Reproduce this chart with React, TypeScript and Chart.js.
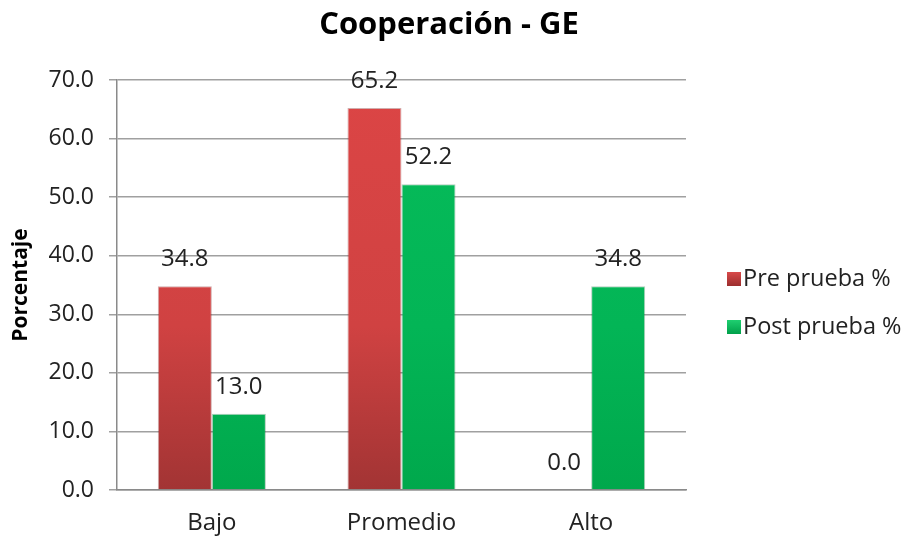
import React, { useEffect, useRef } from "react";
import { Chart, registerables } from "chart.js";

Chart.register(...registerables);

const categories = ["Bajo", "Promedio", "Alto"];
const preValues = [34.8, 65.2, 0.0];
const postValues = [13.0, 52.2, 34.8];
const seriesNames = ["Pre prueba %", "Post prueba %"];
const chartTitle = "Cooperación - GE";
const yTitle = "Porcentaje";

const FONT = "'Open Sans', sans-serif";

function grad(ctx: any, area: any, top: string, mid: string, bottom: string) {
  if (!area) return top;
  const g = ctx.createLinearGradient(0, area.top, 0, area.bottom);
  g.addColorStop(0, top);
  g.addColorStop(0.6, mid);
  g.addColorStop(1, bottom);
  return g;
}

const overlay = {
  id: "overlay",
  afterDatasetsDraw(chart: any) {
    const { ctx } = chart;
    ctx.save();
    // data labels
    ctx.font = `24px ${FONT}`;
    ctx.fillStyle = "#222";
    ctx.textAlign = "center";
    ctx.textBaseline = "middle";
    chart.data.datasets.forEach((ds: any, di: number) => {
      const meta = chart.getDatasetMeta(di);
      meta.data.forEach((bar: any, i: number) => {
        const v = ds.data[i] as number;
        ctx.fillText(v.toFixed(1), bar.x, bar.y - 27);
      });
    });
    // title
    ctx.font = `bold 31px ${FONT}`;
    ctx.fillStyle = "#000";
    ctx.fillText(chartTitle, 449, 25);
    // legend
    const colors = [
      ["#d84a4a", "#9c2e2e"],
      ["#1fcf70", "#00a04a"],
    ];
    const ys = [279, 327];
    ctx.textAlign = "left";
    ctx.font = `23.5px ${FONT}`;
    seriesNames.forEach((name, i) => {
      const y = ys[i];
      const g = ctx.createLinearGradient(0, y - 7, 0, y + 7);
      g.addColorStop(0, colors[i][0]);
      g.addColorStop(1, colors[i][1]);
      ctx.fillStyle = g;
      ctx.fillRect(727, y - 7, 14, 14);
      ctx.fillStyle = "#222";
      ctx.fillText(name, 743, y);
    });
    ctx.restore();
  },
};

export default function App() {
  const ref = useRef<HTMLCanvasElement>(null);
  useEffect(() => {
    if (!ref.current) return;
    const chart = new Chart(ref.current, {
      type: "bar",
      data: {
        labels: categories,
        datasets: [
          {
            label: seriesNames[0],
            data: preValues,
            backgroundColor: (c: any) =>
              grad(c.chart.ctx, c.chart.chartArea, "#dc4545", "#d04242", "#a23434"),
            borderColor: "rgba(120,20,20,0.35)",
            borderWidth: 1,
          },
          {
            label: seriesNames[1],
            data: postValues,
            backgroundColor: (c: any) =>
              grad(c.chart.ctx, c.chart.chartArea, "#06bc5a", "#03b556", "#00a84c"),
            borderColor: "rgba(0,90,40,0.3)",
            borderWidth: 1,
          },
        ],
      },
      options: {
        animation: false,
        responsive: true,
        maintainAspectRatio: false,
        layout: { padding: { top: 80, right: 224, left: 0, bottom: 0 } },
        plugins: {
          legend: { display: false },
          title: { display: false },
          tooltip: { enabled: false },
        },
        datasets: {
          bar: { categoryPercentage: 0.57, barPercentage: 1 },
        },
        scales: {
          x: {
            grid: { display: false },
            border: { color: "#8a8a8a", width: 1.5 },
            ticks: {
              color: "#222",
              font: { family: FONT, size: 24 },
              padding: 11,
            },
            afterFit: (s: any) => {
              s.height = 50;
            },
          },
          y: {
            min: 0,
            max: 70,
            ticks: {
              stepSize: 10,
              color: "#222",
              font: { family: FONT, size: 23 },
              padding: 15,
              callback: (v: any) => Number(v).toFixed(1),
            },
            grid: { color: "#a0a0a0", lineWidth: 1.5, tickLength: 8 },
            border: { color: "#8a8a8a", width: 1.5 },
            title: {
              display: true,
              text: yTitle,
              color: "#000",
              font: { family: FONT, size: 21, weight: "bold" },
              padding: { top: 8, bottom: 0 },
            },
            afterFit: (s: any) => {
              s.width = 117;
            },
          },
        },
      },
      plugins: [overlay],
    });
    return () => chart.destroy();
  }, []);
  return (
    <div
      style={{
        position: "fixed",
        left: 0,
        top: 0,
        width: 910,
        height: 540,
        background: "#fff",
      }}
    >
      <canvas ref={ref} />
    </div>
  );
}
